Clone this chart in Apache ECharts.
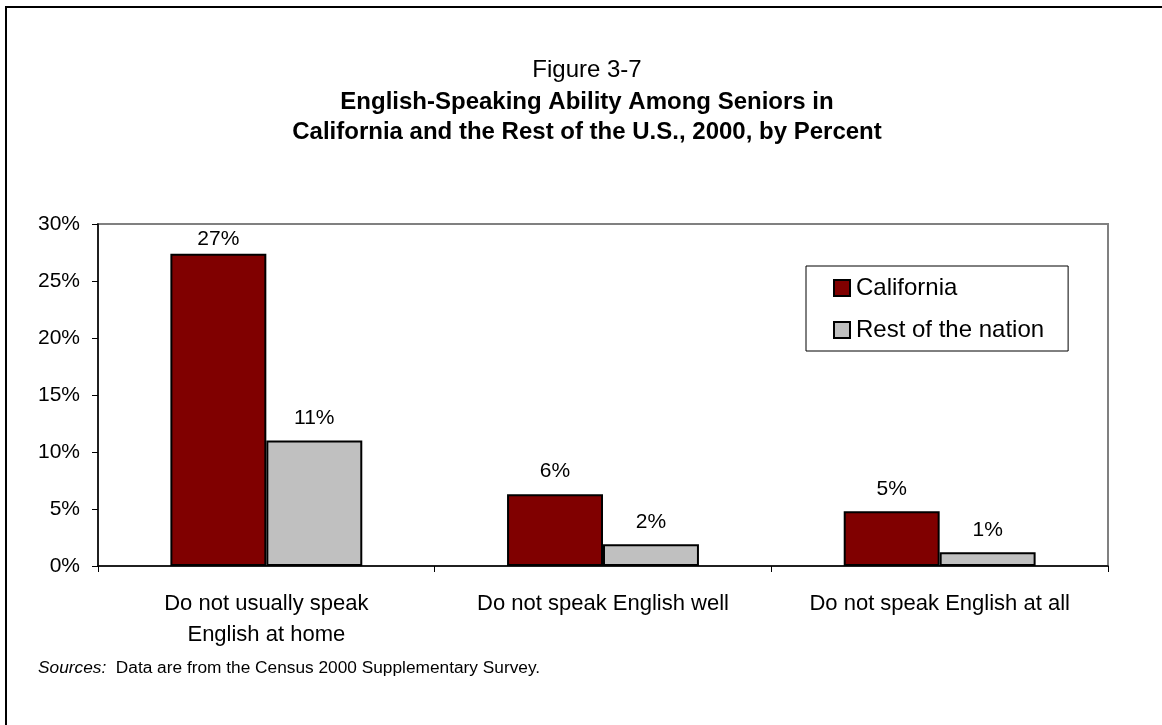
<!DOCTYPE html>
<html>
<head>
<meta charset="utf-8">
<script src="https://cdn.jsdelivr.net/npm/echarts@6/dist/echarts.min.js"></script>
<style>
  html, body { margin: 0; padding: 0; background: #fff; }
  #chart { width: 1162px; height: 725px; }
</style>
</head>
<body>
<div id="chart"></div>
<script>
// English-speaking ability among seniors, 2000 (percent)
const categories = ['Do not usually speak\nEnglish at home', 'Do not speak English well', 'Do not speak English at all'];
const california = [27.4, 6.3, 4.8];
const restOfNation = [11.0, 1.9, 1.2];
const yTicks = [0, 5, 10, 15, 20, 25, 30];

const FONT = '"Liberation Sans", Arial, sans-serif';

// Keep a tall bar's label inside the plot area
function labelDistance(v) { return v > 26 ? 4 : 12; }

function barData(values) {
  return values.map(v => ({ value: v, label: { distance: labelDistance(v) } }));
}

const chart = echarts.init(document.getElementById('chart'), null, { renderer: 'canvas' });

chart.setOption({
  animation: false,
  backgroundColor: '#ffffff',
  textStyle: { fontFamily: FONT },
  graphic: [
    { type: 'rect', shape: { x: 6, y: 7, width: 2000, height: 2000 },
      style: { fill: 'none', stroke: '#000', lineWidth: 2 }, silent: true },
    { type: 'text', x: 587, y: 70,
      style: { text: 'Figure 3-7', font: '24px ' + FONT, fill: '#000', textAlign: 'center', textVerticalAlign: 'middle' } },
    { type: 'text', x: 587, y: 117,
      style: { text: 'English-Speaking Ability Among Seniors in\nCalifornia and the Rest of the U.S., 2000, by Percent',
        font: 'bold 24px ' + FONT, lineHeight: 30, fill: '#000', textAlign: 'center', textVerticalAlign: 'middle' } },
    { type: 'text', x: 38, y: 668,
      style: { text: '{i|Sources:}  Data are from the Census 2000 Supplementary Survey.',
        font: '17.3px ' + FONT, fill: '#000', textVerticalAlign: 'middle',
        rich: { i: { fontStyle: 'italic', fontSize: 17.3, fontFamily: FONT } } } }
  ],
  legend: {
    orient: 'vertical',
    left: 806, top: 266,
    padding: [10, 24, 9, 27],
    itemGap: 18,
    itemWidth: 16, itemHeight: 16,
    itemStyle: { borderColor: '#000', borderWidth: 2 },
    borderColor: '#000', borderWidth: 1,
    backgroundColor: '#fff',
    textStyle: { fontSize: 24, fontFamily: FONT, color: '#000', padding: [0, 0, 0, 1] },
    icon: 'rect',
    data: ['California', 'Rest of the nation']
  },
  grid: {
    left: 98, right: 54, top: 224, bottom: 159,
    show: true, borderColor: '#808080', borderWidth: 2, backgroundColor: 'transparent'
  },
  xAxis: {
    type: 'category',
    data: categories,
    axisLine: { lineStyle: { color: '#000', width: 1.5 } },
    axisTick: { show: true, length: 6, lineStyle: { color: '#000' } },
    axisLabel: { fontSize: 22, color: '#000', lineHeight: 31, margin: 22, fontFamily: FONT, interval: 0 },
    splitLine: { show: false }
  },
  yAxis: {
    type: 'value',
    min: yTicks[0], max: yTicks[yTicks.length - 1], interval: 5,
    axisLine: { show: true, lineStyle: { color: '#000', width: 1.5 } },
    axisTick: { show: true, length: 6, lineStyle: { color: '#000' } },
    axisLabel: { fontSize: 21, color: '#000', margin: 18, fontFamily: FONT, formatter: v => v + '%' },
    splitLine: { show: false }
  },
  series: [
    {
      name: 'California', type: 'bar',
      data: barData(california),
      barGap: '0%', barCategoryGap: '43%',
      itemStyle: { color: '#800000', borderColor: '#000', borderWidth: 2 },
      label: { show: true, position: 'top', fontSize: 21, color: '#000', fontFamily: FONT,
        formatter: p => Math.round(p.value) + '%' }
    },
    {
      name: 'Rest of the nation', type: 'bar',
      data: barData(restOfNation),
      barGap: '0%', barCategoryGap: '43%',
      itemStyle: { color: '#C0C0C0', borderColor: '#000', borderWidth: 2 },
      label: { show: true, position: 'top', fontSize: 21, color: '#000', fontFamily: FONT,
        formatter: p => Math.round(p.value) + '%' }
    }
  ]
});
</script>
</body>
</html>
